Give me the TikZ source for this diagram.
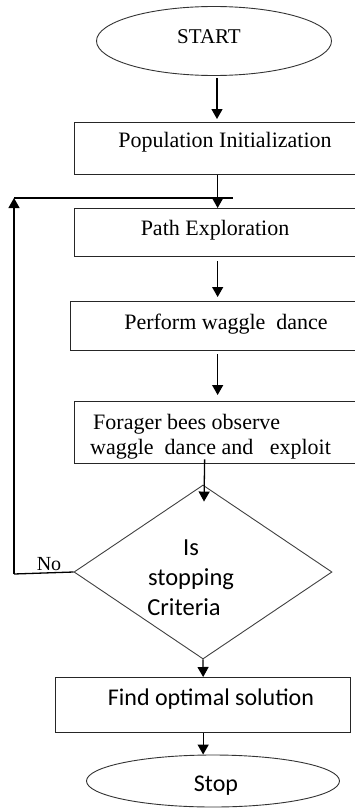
\documentclass[tikz,border=0pt]{standalone}
\usepackage{fontspec}
\setmainfont{Liberation Serif}
\newfontfamily\calib{Carlito}
\usetikzlibrary{shapes.geometric,arrows.meta}
\begin{document}
\begin{tikzpicture}[x=1pt,y=-1pt,
  box/.style={draw=black!85,line width=1.3pt,inner sep=0pt,anchor=north west},
  oval/.style={draw=black!80,ellipse,line width=0.9pt,inner sep=0pt},
  decision/.style={draw=black!75,diamond,line width=0.9pt,inner sep=0pt},
  serif/.style={font=\fontsize{22}{25}\selectfont,inner sep=0pt,anchor=base},
  sans/.style={font=\calib\fontsize{24.5}{30}\selectfont,inner sep=0pt,anchor=base},
  arr/.style={line width=1.3pt,-{Triangle[length=10pt,width=11pt]}},
  plain/.style={line width=1.3pt}]
\useasboundingbox (0,0) rectangle (355,808);
\clip (0,0) rectangle (355,808);

% shapes
\node[oval,minimum width=235pt,minimum height=69pt] (start) at (214,41) {};
\node[box,minimum width=286pt,minimum height=52pt] (pop) at (74,122) {};
\node[box,minimum width=286pt,minimum height=48pt] (path) at (74,208) {};
\node[box,minimum width=294pt,minimum height=49pt] (perf) at (70,301) {};
\node[box,minimum width=286pt,minimum height=62pt] (forg) at (74,401) {};
\node[decision,minimum width=258pt,minimum height=174pt] (dia) at (203,572) {};
\node[box,minimum width=295pt,minimum height=55pt] (find) at (55,677) {};
\node[oval,minimum width=253pt,minimum height=52pt] (stop) at (213,781) {};

% texts
\node[serif,font=\fontsize{21}{25}\selectfont] (tstart) at (209,44) {START};
\node[serif] (tpop) at (225,147) {Population Initialization};
\node[serif] (tpath) at (215,235) {Path Exploration};
\node[serif] (tperf) at (226,329) {Perform waggle\ \ dance};
\node[serif,anchor=base west] (tforg1) at (93,429) {Forager bees observe};
\node[serif,anchor=base west] (tforg2) at (90,454) {waggle\ \ dance and\ \ \ exploit};
\node[sans] (tis) at (191,555) {Is};
\node[sans] (tstopping) at (191,585) {stopping};
\node[sans] (tcrit) at (184,615) {Criteria};
\node[serif,font=\fontsize{20}{24}\selectfont] (tno) at (49,570) {No};
\node[sans,font=\calib\fontsize{24}{30}\selectfont] (tfind) at (211,705) {Find optimal solution};
\node[sans,font=\calib\fontsize{24}{30}\selectfont] (tstop) at (216,791) {Stop};

% connectors
\draw[arr] ([xshift=3pt,yshift=-2pt]start.south) -- ([xshift=3pt,yshift=3pt]start.south |- pop.north);
\draw[arr] (pop.south) -- (path.north);
\draw[arr] ([yshift=-4pt]path.south) -- ([yshift=4pt]perf.north);
\draw[arr] ([yshift=-3pt]perf.south) -- ([yshift=6pt]forg.north);
\draw[arr] ([xshift=-13pt,yshift=5pt]forg.south) -- ([xshift=1pt,yshift=-17pt]dia.north);
\draw[arr] (dia.south) -- (find.north);
\draw[arr] (find.south) -- (find.south |- stop.north);
\coordinate (lp) at (14,198);
\coordinate (lb) at (14,574);
\draw[plain] (dia.west) -- (lb);
\draw[arr] (lb) -- (lp);
\draw[plain] (lp) -- ([xshift=15pt]path.north |- lp);
\end{tikzpicture}
\end{document}
